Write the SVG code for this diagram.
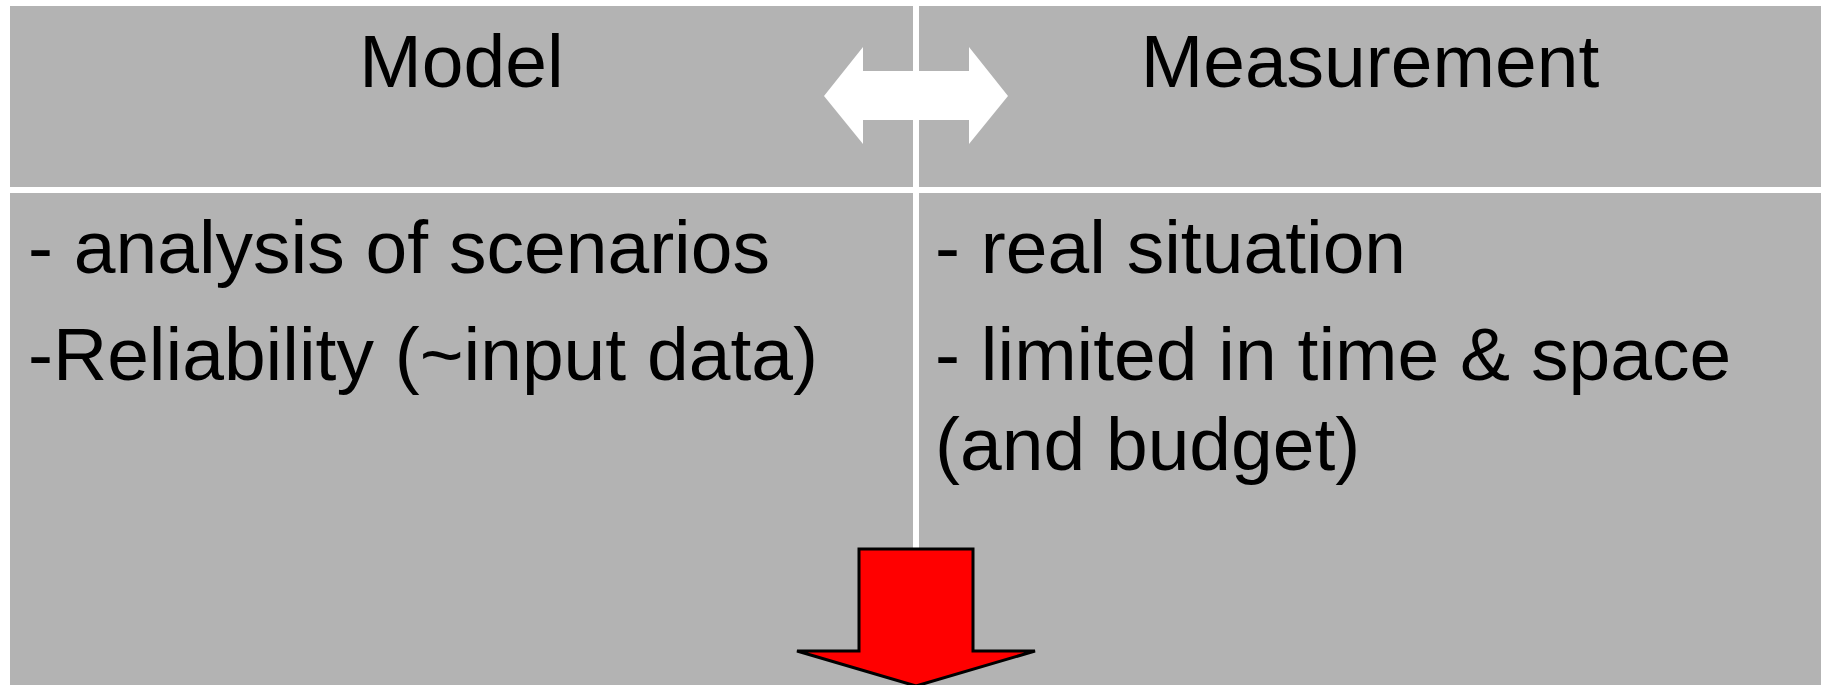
<svg xmlns="http://www.w3.org/2000/svg" width="1825" height="685" viewBox="0 0 1825 685">
<style>
.cell{fill:#b3b3b3}
.t{font-family:"Liberation Sans",Arial,sans-serif;font-size:75px;fill:#000}
</style>
<rect width="1825" height="685" fill="#ffffff"/>
<g id="model-header"><rect class="cell" x="10" y="6" width="903" height="181"/><text class="t" x="461.5" y="87" text-anchor="middle">Model</text></g>
<g id="measurement-header"><rect class="cell" x="919" y="6" width="902" height="181"/><text class="t" x="1370" y="87" text-anchor="middle">Measurement</text></g>
<g id="model-body"><rect class="cell" x="10" y="193" width="903" height="492"/><text class="t" x="28" y="273">- analysis of scenarios</text><text class="t" x="28" y="380">-Reliability (~input data)</text></g>
<g id="measurement-body"><rect class="cell" x="919" y="193" width="902" height="492"/><rect class="cell" x="912" y="548" width="8" height="137"/><text class="t" x="935" y="273">- real situation</text><text class="t" x="935" y="380">- limited in time &amp; space</text><text class="t" x="935" y="470">(and budget)</text></g>
<g id="connectors">
<polygon points="824,96 863,47 863,71 969,71 969,47 1008,96 969,144 969,120 863,120 863,144" fill="#ffffff"/>
<polygon points="859,549 973,549 973,651 1035,651 916,686 797,651 859,651" fill="#ff0000" stroke="#000000" stroke-width="3" stroke-linejoin="miter"/>
</g>
</svg>
